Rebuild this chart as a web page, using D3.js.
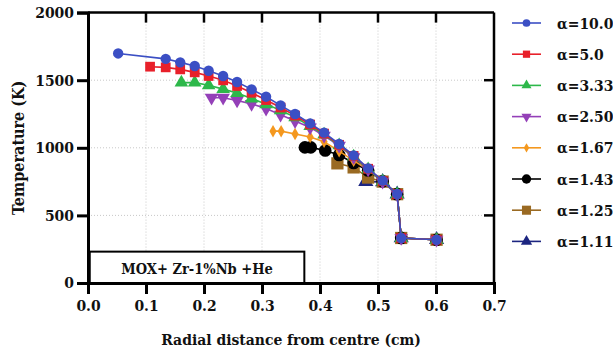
<!DOCTYPE html>
<html>
<head>
<meta charset="utf-8">
<script src="https://cdn.jsdelivr.net/npm/d3@7"></script>
<style>
  body { margin: 0; background: #fff; }
  svg text { font-family: "DejaVu Serif Condensed", "DejaVu Serif", serif; font-stretch: condensed; font-weight: bold; fill: #111; }
</style>
</head>
<body>
<svg id="chart" width="613" height="350"></svg>
<script>
// series data: [radial distance (cm), temperature (K)]
const a100 = [[0.052, 1698], [0.134, 1658], [0.159, 1632], [0.184, 1605], [0.208, 1570], [0.233, 1531], [0.257, 1487],
  [0.282, 1432], [0.307, 1378], [0.332, 1314], [0.357, 1250], [0.383, 1181], [0.407, 1112], [0.433, 1028],
  [0.458, 944], [0.483, 848], [0.508, 757], [0.533, 658], [0.540, 333], [0.601, 320]];
const a50 = [[0.107, 1600], [0.134, 1595], [0.159, 1580], [0.184, 1558], [0.208, 1531], [0.233, 1499], [0.257, 1457],
  [0.282, 1407], [0.307, 1353], [0.332, 1298], [0.357, 1238], [0.383, 1172], [0.407, 1105], [0.433, 1022],
  [0.458, 940], [0.483, 845], [0.508, 755], [0.533, 658], [0.540, 333], [0.601, 320]];
const a333 = [[0.161, 1482], [0.184, 1482], [0.208, 1462], [0.233, 1434], [0.257, 1405], [0.282, 1365], [0.307, 1322],
  [0.332, 1278], [0.357, 1225], [0.383, 1160], [0.407, 1098], [0.433, 1018], [0.458, 935], [0.483, 840],
  [0.508, 752], [0.533, 657], [0.540, 333], [0.601, 320]];
const a250 = [[0.213, 1370], [0.233, 1370], [0.257, 1350], [0.282, 1325], [0.307, 1290], [0.332, 1245], [0.357, 1198],
  [0.383, 1150], [0.407, 1090], [0.433, 1015], [0.458, 930], [0.483, 840], [0.508, 750], [0.533, 656],
  [0.540, 333], [0.601, 320]];
const a167 = [[0.319, 1123], [0.333, 1123], [0.357, 1102], [0.383, 1080], [0.407, 1045], [0.433, 975], [0.458, 905],
  [0.483, 838], [0.508, 752], [0.533, 657], [0.540, 333], [0.601, 320]];
const a143 = [[0.374, 1003], [0.384, 1003], [0.409, 980], [0.433, 947], [0.458, 888], [0.483, 832], [0.508, 752],
  [0.533, 657], [0.540, 333], [0.601, 320]];
const a125 = [[0.430, 885], [0.458, 855], [0.483, 780], [0.508, 750], [0.533, 657], [0.540, 333], [0.601, 320]];
const a111 = [[0.479, 750], [0.508, 748], [0.533, 657], [0.540, 333], [0.601, 320]];

const labels = ["α=10.0", "α=5.0", "α=3.33", "α=2.50", "α=1.67", "α=1.43", "α=1.25", "α=1.11"];
const seriesData = [a100, a50, a333, a250, a167, a143, a125, a111];
const colors = ["#3b4fc4", "#e8202a", "#2db84a", "#9440b8", "#f4981f", "#000000", "#9a6a22", "#1c2580"];
const shapes = ["circle", "square", "triangle", "triangleDown", "diamond", "circle", "square", "triangle"];
const sizes = [85, 95, 80, 80, 45, 125, 150, 100];

const xTicks = [0.0, 0.1, 0.2, 0.3, 0.4, 0.5, 0.6, 0.7];
const yTicks = [0, 500, 1000, 1500, 2000];

const svg = d3.select("#chart");
const plotL = 88, plotR = 494, plotT = 12.6, plotB = 283;

const x = d3.scaleLinear().domain([0, 0.7]).range([plotL, plotR]);
const y = d3.scaleLinear().domain([0, 2000]).range([plotB, plotT]);

function symbolPath(shape, size) {
  const map = { circle: d3.symbolCircle, square: d3.symbolSquare, triangle: d3.symbolTriangle,
    triangleDown: d3.symbolTriangle, diamond: d3.symbolDiamond };
  return d3.symbol().type(map[shape]).size(size)();
}

// grid lines
const grid = svg.append("g");
grid.selectAll(".gx").data(xTicks.filter(d => d > 0 && d < 0.7)).enter().append("line")
  .attr("x1", d => x(d)).attr("x2", d => x(d)).attr("y1", plotT).attr("y2", plotB)
  .attr("stroke", "#c8c8c8").attr("stroke-width", 1).attr("stroke-dasharray", "1,2");
grid.selectAll(".gy").data(yTicks.filter(d => d > 0 && d < 2000)).enter().append("line")
  .attr("x1", plotL).attr("x2", plotR).attr("y1", d => y(d)).attr("y2", d => y(d))
  .attr("stroke", "#c8c8c8").attr("stroke-width", 1).attr("stroke-dasharray", "1,2");

// annotation box
svg.append("rect").attr("x", x(0.003)).attr("y", y(232)).attr("width", x(0.373) - x(0.003))
  .attr("height", y(0) - y(232)).attr("fill", "#fff").attr("stroke", "#000").attr("stroke-width", 2);
svg.append("text").attr("x", (x(0.003) + x(0.373)) / 2).attr("y", 273.5).attr("text-anchor", "middle")
  .style("font-size", "14.5px").text("MOX+ Zr-1%Nb +He");

// series, drawn from last to first so α=10.0 ends up on top
const line = d3.line().x(d => x(d[0])).y(d => y(d[1]));
for (let i = seriesData.length - 1; i >= 0; i--) {
  const g = svg.append("g");
  g.append("path").datum(seriesData[i]).attr("d", line).attr("fill", "none")
    .attr("stroke", colors[i]).attr("stroke-width", 1.6);
  g.selectAll("path.m").data(seriesData[i]).enter().append("path").attr("class", "m")
    .attr("d", symbolPath(shapes[i], sizes[i]))
    .attr("transform", d => `translate(${x(d[0])},${y(d[1])})` + (shapes[i] === "triangleDown" ? " rotate(180)" : ""))
    .attr("fill", colors[i]);
}

// frame: top and right with inward ticks
svg.append("line").attr("x1", plotL).attr("x2", plotR).attr("y1", plotT).attr("y2", plotT)
  .attr("stroke", "#000").attr("stroke-width", 2.5);
svg.append("line").attr("x1", plotR).attr("x2", plotR).attr("y1", plotT).attr("y2", plotB)
  .attr("stroke", "#000").attr("stroke-width", 2.5);
svg.selectAll(".tt").data(xTicks.filter(d => d > 0 && d < 0.7)).enter().append("line")
  .attr("x1", d => x(d)).attr("x2", d => x(d)).attr("y1", plotT).attr("y2", plotT + 10)
  .attr("stroke", "#000").attr("stroke-width", 2.5);
svg.selectAll(".rt").data(yTicks.filter(d => d > 0 && d < 2000)).enter().append("line")
  .attr("x1", plotR).attr("x2", plotR - 10).attr("y1", d => y(d)).attr("y2", d => y(d))
  .attr("stroke", "#000").attr("stroke-width", 2.5);

// axes
const xAxis = svg.append("g").attr("transform", `translate(0,${plotB})`)
  .call(d3.axisBottom(x).tickValues(xTicks).tickFormat(d3.format(".1f")).tickSize(11).tickPadding(6));
const yAxis = svg.append("g").attr("transform", `translate(${plotL},0)`)
  .call(d3.axisLeft(y).tickValues(yTicks).tickFormat(d3.format("d")).tickSize(11).tickPadding(3));
[xAxis, yAxis].forEach(a => {
  a.select(".domain").attr("stroke", "#000").attr("stroke-width", 3);
  a.selectAll(".tick line").attr("stroke", "#000").attr("stroke-width", 3);
  a.selectAll(".tick text").style("font-size", "15.5px").attr("fill", "#111")
    .style("font-family", "'DejaVu Serif Condensed', 'DejaVu Serif', serif").style("font-weight", "bold");
});

svg.append("text").attr("x", (plotL + plotR) / 2).attr("y", 345).attr("text-anchor", "middle")
  .style("font-size", "15.5px").text("Radial distance from centre (cm)");
svg.append("text").attr("transform", `translate(24,${(plotT + plotB) / 2}) rotate(-90)`)
  .attr("text-anchor", "middle").style("font-size", "16px").text("Temperature (K)");

// legend
const legend = svg.append("g");
labels.forEach((lab, i) => {
  const cy = 23 + i * 31.2;
  const row = legend.append("g").attr("transform", `translate(0,${cy})`);
  row.append("line").attr("x1", 512).attr("x2", 541).attr("y1", 0).attr("y2", 0)
    .attr("stroke", colors[i]).attr("stroke-width", 1.6);
  row.append("path").attr("d", symbolPath(shapes[i], sizes[i] * 0.55))
    .attr("transform", `translate(526.5,0)` + (shapes[i] === "triangleDown" ? " rotate(180)" : ""))
    .attr("fill", colors[i]);
  row.append("text").attr("x", 557).attr("y", 5.5).style("font-size", "15.5px").text(lab);
});
</script>
</body>
</html>
